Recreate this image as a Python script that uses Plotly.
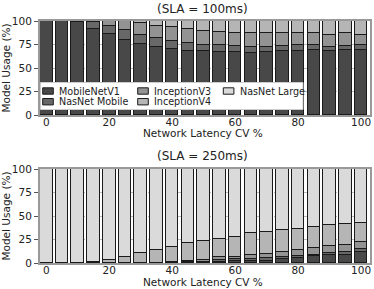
import plotly.graph_objects as go

x_cv = [0, 5, 10, 15, 20, 25, 30, 35, 40, 45, 50, 55, 60, 65, 70, 75, 80, 85, 90, 95, 100]
model_names = ["MobileNetV1", "NasNet Mobile", "InceptionV3", "InceptionV4", "NasNet Large"]
colors = ["#484848", "#686868", "#939393", "#b5b5b5", "#dadada"]

# SLA = 100ms
mobilenet_100 = [100, 100, 98.5, 92, 86, 80, 76, 72.7, 70.6, 68.4, 67.7, 67.5, 67.5, 65.5, 67, 67.7, 68.4, 69, 67.7, 69, 69]
nasnet_mobile_100 = [0, 0, 1.5, 7, 8.3, 10, 8.7, 9.2, 8.5, 7.8, 7.1, 6.5, 6, 6.5, 5.7, 5.7, 5.7, 5, 5, 4.4, 5]
inception_v3_100 = [0, 0, 0, 1, 5.7, 9.5, 12.8, 13.1, 14.8, 15.6, 14.9, 14.3, 14, 15, 14.2, 13.5, 12.8, 13, 12.8, 13.5, 11.5]
inception_v4_100 = [0, 0, 0, 0, 0, 0.5, 2.5, 5, 6.1, 8.2, 10.3, 11.7, 12.5, 13, 13.1, 13.1, 13.1, 13, 14.5, 13.1, 14.5]
nasnet_large_100 = [0] * 21

# SLA = 250ms
mobilenet_250 = [0, 0, 0, 0, 0, 0, 0, 0, 0, 0.5, 0.5, 1.5, 2, 2, 2.5, 4, 5, 7, 9, 9, 12]
nasnet_mobile_250 = [0, 0, 0, 0, 0, 0, 0, 0, 0, 0.5, 1, 2, 2, 2.5, 2.5, 2.5, 2, 2, 2, 3, 2.5]
inception_v3_250 = [0, 0, 0, 0, 0, 0, 0, 0, 1.5, 1.5, 2, 2.5, 2.5, 4.5, 4.5, 5.5, 7, 7, 7, 7.5, 8]
inception_v4_250 = [0, 0, 0, 0.7, 2.7, 6.8, 11, 14, 16, 18.5, 19.5, 19.5, 21, 22.5, 23, 23, 22, 22.5, 22, 21.5, 20.5]
nasnet_large_250 = [round(100 - a - b - c - d, 2) for a, b, c, d in
                    zip(mobilenet_250, nasnet_mobile_250, inception_v3_250, inception_v4_250)]

x_ticks = [0, 20, 40, 60, 80, 100]
y_ticks = [0, 25, 50, 75, 100]

panels = [
    [mobilenet_100, nasnet_mobile_100, inception_v3_100, inception_v4_100, nasnet_large_100],
    [mobilenet_250, nasnet_mobile_250, inception_v3_250, inception_v4_250, nasnet_large_250],
]
titles = ["(SLA = 100ms)", "(SLA = 250ms)"]
x_title = "Network Latency CV %"
y_title = "Model Usage (%)"

W, H = 374, 289
ML, MR, MT, MB = 40, 4, 21, 26
PW, PH = W - ML - MR, H - MT - MB


def px_x(p):
    return (p - ML) / PW


def px_y(p):
    return (H - MB - p) / PH


fig = go.Figure()
axes = [("x", "y"), ("x2", "y2")]
for r, series in enumerate(panels):
    xa, ya = axes[r]
    for i, vals in enumerate(series):
        fig.add_trace(go.Bar(
            x=x_cv, y=vals, name=model_names[i],
            marker=dict(color=colors[i], line=dict(color="#1a1a1a", width=1)),
            width=4, showlegend=False, xaxis=xa, yaxis=ya,
        ))

fig.update_layout(
    barmode="stack",
    width=W, height=H,
    margin=dict(l=ML, r=MR, t=MT, b=MB, autoexpand=False),
    paper_bgcolor="white", plot_bgcolor="white",
    font=dict(family="DejaVu Sans", size=10, color="#222"),
    bargap=0, showlegend=False,
)

domains_y = [[px_y(115), 1.0], [0.0, px_y(169)]]
xkeys = ["xaxis", "xaxis2"]
ykeys = ["yaxis", "yaxis2"]
x_standoffs = [-4, -4]
for r in range(2):
    xdict = dict(domain=[0, 1], range=[-2.0, 102.85], tickvals=x_ticks,
                 ticks="", ticklabelstandoff=x_standoffs[r],
                 showline=True, linecolor="#999", linewidth=2, mirror=True,
                 showgrid=False, zeroline=False, tickfont=dict(size=10.5),
                 anchor=axes[r][1])
    ydict = dict(domain=domains_y[r], range=[0, 100], tickvals=y_ticks,
                 ticks="outside", ticklen=4, tickcolor="#555",
                 showline=True, linecolor="#999", linewidth=2, mirror=True,
                 showgrid=True, gridcolor="#bbbbbb", griddash="dot", gridwidth=1,
                 zeroline=False, tickfont=dict(size=10.5), anchor=axes[r][0],
                 title=dict(text=y_title, font=dict(size=10.5), standoff=2))
    fig.update_layout({xkeys[r]: xdict, ykeys[r]: ydict})

# panel titles and x-axis titles
for t, ty, xy in [(titles[0], 9, 132.5), (titles[1], 156, 282)]:
    fig.add_annotation(text=t, x=px_x(202), y=px_y(ty), xref="paper", yref="paper",
                       yanchor="middle", showarrow=False, font=dict(size=12))
    fig.add_annotation(text=x_title, x=px_x(203), y=px_y(xy), xref="paper", yref="paper",
                       yanchor="middle", showarrow=False, font=dict(size=10.5))

# legend (drawn manually to match the compact two-row layout)
fig.add_shape(type="rect", xref="paper", yref="paper",
              x0=px_x(40.5), x1=px_x(303), y0=px_y(109.5), y1=px_y(82.5),
              fillcolor="white", line=dict(color="#cccccc", width=1), layer="above")
legend_cols = [42.7, 137.7, 223.3]
legend_rows = [91, 101.7]
legend_pos = [(0, 0), (0, 1), (1, 0), (1, 1), (2, 0)]
for i, (c, rr) in enumerate(legend_pos):
    sx = legend_cols[c]
    sy = legend_rows[rr]
    fig.add_shape(type="rect", xref="paper", yref="paper",
                  x0=px_x(sx), x1=px_x(sx + 10.6), y0=px_y(sy + 3.2), y1=px_y(sy - 3.2),
                  fillcolor=colors[i], line=dict(color="#1a1a1a", width=1), layer="above")
    fig.add_annotation(text=model_names[i], x=px_x(sx + 14.5), y=px_y(sy), xref="paper", yref="paper",
                       xanchor="left", yanchor="middle", showarrow=False,
                       font=dict(size=9.6, color="#222"))

fig.write_html("out.html", config={"displayModeBar": False},
               post_script="document.body.style.margin='0';")
